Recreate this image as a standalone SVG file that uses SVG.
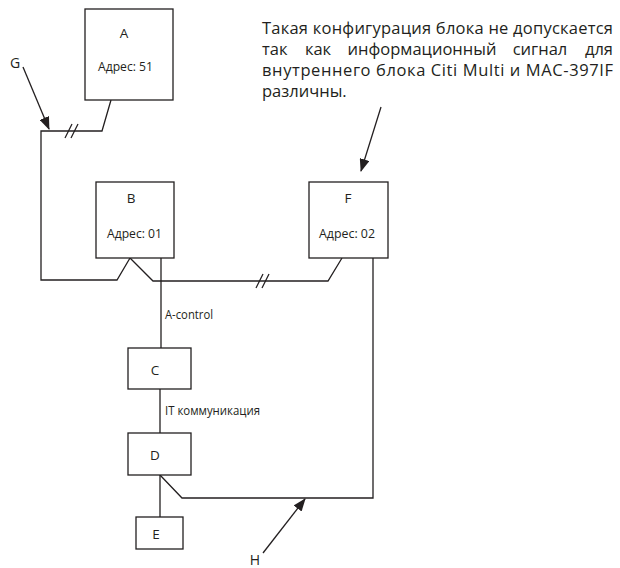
<svg xmlns="http://www.w3.org/2000/svg" width="620" height="568" viewBox="0 0 620 568">
  <style>
    .box { fill: #ffffff; stroke: #231f20; stroke-width: 1.3; }
    .wire { fill: none; stroke: #231f20; stroke-width: 1.3; stroke-linejoin: miter; }
    .lbl { font-family: "Open Sans", "Liberation Sans", sans-serif; font-size: 13.5px; fill: #231f20; }
    .note { font-family: "Open Sans", "Liberation Sans", sans-serif; font-size: 16.5px; fill: #231f20; }
    .tag { font-family: "Open Sans", "Liberation Sans", sans-serif; font-size: 14px; fill: #231f20; text-anchor: middle; }
  </style>
  <defs>
    <marker id="arrow" markerUnits="userSpaceOnUse" markerWidth="13" markerHeight="10" refX="12" refY="5" orient="auto">
      <path d="M0,0 L13,5 L0,10 Z" fill="#231f20"/>
    </marker>
  </defs>

  <rect width="620" height="568" fill="#ffffff"/>

  <!-- wiring between units -->
  <g id="connectors">
    <!-- A down to the outer loop, then round to B and on to F -->
    <polyline class="wire" points="111,100 102,131 41,131 41,280 117,280 130,258"/>
    <polyline class="wire" points="130,258 153,281 328,281 342,258"/>
    <!-- cut marks -->
    <line class="wire" x1="65" y1="138" x2="72" y2="124"/>
    <line class="wire" x1="71" y1="138" x2="78" y2="124"/>
    <line class="wire" x1="256" y1="288" x2="263" y2="274"/>
    <line class="wire" x1="262" y1="288" x2="269" y2="274"/>
    <!-- A-control trunk -->
    <line class="wire" x1="161" y1="258" x2="161" y2="348"/>
    <line class="wire" x1="160" y1="389" x2="160" y2="433"/>
    <line class="wire" x1="160" y1="475" x2="160" y2="517"/>
    <!-- D back to F -->
    <polyline class="wire" points="160,475 182,498 373,498 373,258"/>
    <!-- pointers -->
    <line class="wire" x1="23" y1="67" x2="49" y2="129" marker-end="url(#arrow)"/>
    <line class="wire" x1="381" y1="107" x2="361" y2="171" marker-end="url(#arrow)"/>
    <line class="wire" x1="263" y1="553" x2="305" y2="499" marker-end="url(#arrow)"/>
  </g>

  <g id="node-A">
    <rect class="box" x="85" y="9" width="88" height="91"/>
    <text class="lbl" x="124" y="38" text-anchor="middle">A</text>
    <text class="lbl" x="98" y="71" textLength="55" lengthAdjust="spacingAndGlyphs">Адрес: 51</text>
  </g>

  <g id="node-B">
    <rect class="box" x="96" y="182" width="78" height="76"/>
    <text class="lbl" x="131" y="203" text-anchor="middle">B</text>
    <text class="lbl" x="107" y="238" textLength="55" lengthAdjust="spacingAndGlyphs">Адрес: 01</text>
  </g>

  <g id="node-F">
    <rect class="box" x="309" y="182" width="79" height="76"/>
    <text class="lbl" x="348" y="203" text-anchor="middle">F</text>
    <text class="lbl" x="319" y="238" textLength="56" lengthAdjust="spacingAndGlyphs">Адрес: 02</text>
  </g>

  <g id="node-C">
    <rect class="box" x="128" y="348" width="63" height="41"/>
    <text class="lbl" x="155" y="375" text-anchor="middle">C</text>
  </g>

  <g id="node-D">
    <rect class="box" x="128" y="433" width="63" height="42"/>
    <text class="lbl" x="155" y="460" text-anchor="middle">D</text>
  </g>

  <g id="node-E">
    <rect class="box" x="136" y="517" width="47" height="32"/>
    <text class="lbl" x="156" y="539" text-anchor="middle">E</text>
  </g>

  <!-- line labels -->
  <text class="lbl" x="165" y="319" textLength="48" lengthAdjust="spacingAndGlyphs">A-control</text>
  <text class="lbl" x="165" y="415" textLength="95" lengthAdjust="spacingAndGlyphs">IT коммуникация</text>

  <!-- pointer tags -->
  <text class="tag" x="15" y="68">G</text>
  <text class="tag" x="255" y="565">H</text>

  <!-- note, justified to 262..613 -->
  <g id="note">
    <text class="note" x="262" y="34" textLength="351" lengthAdjust="spacing">Такая конфигурация блока не допускается</text>
    <text class="note" x="262" y="55">так</text>
    <text class="note" x="318" y="55" text-anchor="middle">как</text>
    <text class="note" x="422" y="55" text-anchor="middle">информационный</text>
    <text class="note" x="540" y="55" text-anchor="middle">сигнал</text>
    <text class="note" x="613" y="55" text-anchor="end">для</text>
    <text class="note" x="262" y="76" textLength="351" lengthAdjust="spacing">внутреннего блока Citi Multi и MAC-397IF</text>
    <text class="note" x="262" y="97">различны.</text>
  </g>
</svg>
